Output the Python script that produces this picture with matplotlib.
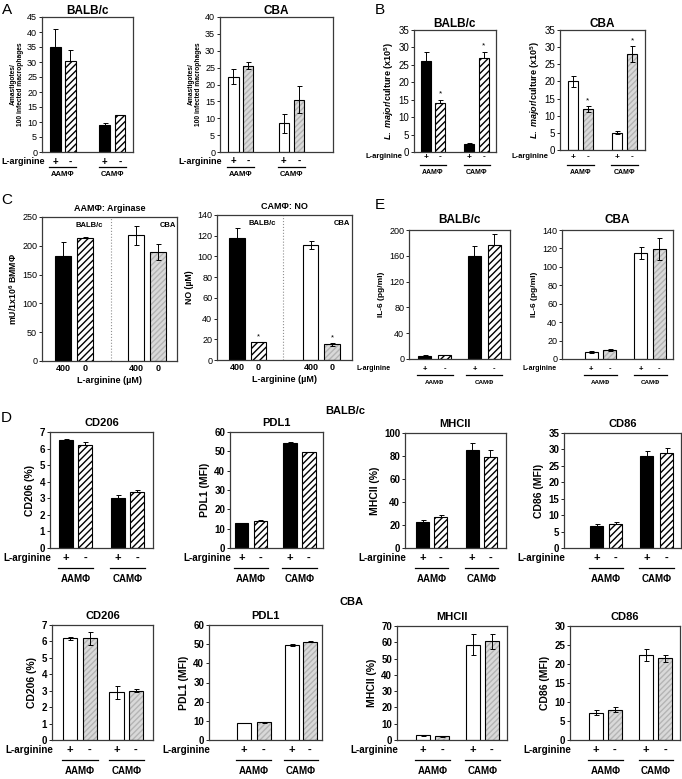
import matplotlib
matplotlib.use('Agg')
import matplotlib.pyplot as plt
from matplotlib import transforms

plt.rcParams['font.family'] = ['Liberation Sans', 'DejaVu Sans']
plt.rcParams['mathtext.fontset'] = 'custom'
plt.rcParams['mathtext.rm'] = 'Liberation Sans:bold'
plt.rcParams['mathtext.it'] = 'Liberation Sans:italic:bold'
plt.rcParams['hatch.linewidth'] = 1.0

W, H, DPI = 682, 779, 100

# ---- data ----
groups = ['AAMΦ', 'CAMΦ']
arg_signs = ['+', '-', '+', '-']
c_ticks = ['400', '0', '400', '0']

a_balb = [35, 30.5, 9, 12.3]
a_balb_err = [6, 3.5, 0.8, 0.1]
a_cba = [22.3, 25.6, 8.5, 15.5]
a_cba_err = [2.2, 1.1, 2.8, 4.0]

b_balb = [26, 14, 2.4, 27]
b_balb_err = [2.8, 1.0, 0.2, 1.8]
b_cba = [20, 12, 5.1, 28]
b_cba_err = [1.5, 0.8, 0.4, 2.2]

c_arginase = [183, 213, 218, 189]
c_arginase_err = [24, 3, 17, 14]
c_no = [118, 17, 111, 15]
c_no_err = [9, 0.3, 4, 1]

e_balb = [5, 5.5, 160, 176]
e_balb_err = [1.5, 1, 15, 18]
e_cba = [8, 9.5, 115, 119]
e_cba_err = [1, 1, 7, 12]

d_markers = ['CD206', 'PDL1', 'MHCII', 'CD86']
d_ylabels = ['CD206 (%)', 'PDL1 (MFI)', 'MHCII (%)', 'CD86 (MFI)']
d_balb = [[6.5, 6.2, 3.0, 3.4], [12.7, 14, 54.3, 49.5],
          [22.5, 27, 85.5, 79.5], [6.7, 7.2, 28, 28.8]]
d_balb_err = [[0.1, 0.2, 0.2, 0.1], [0.1, 0.5, 0.5, 0.1],
              [1.5, 1.5, 5.5, 6], [0.6, 0.8, 1.5, 1.5]]
d_cba = [[6.2, 6.2, 2.9, 3.0], [9.0, 9.2, 49.7, 51.2],
         [2.8, 2.4, 58.5, 60.5], [7.2, 8.0, 22.3, 21.5]]
d_cba_err = [[0.1, 0.4, 0.4, 0.1], [0.1, 0.3, 0.4, 0.3],
             [0.05, 0.3, 6.5, 4.5], [0.6, 0.7, 1.6, 0.9]]

BALB = ['black', 'hatch', 'black', 'hatch']
CBA = ['white', 'gray', 'white', 'gray']

fig = plt.figure(figsize=(W / DPI, H / DPI), dpi=DPI)


def add_ax(l, t, r, b):
    return fig.add_axes([l / W, 1 - b / H, (r - l) / W, (b - t) / H])


def shift(ax, base, dx=0, dy=0):
    return base + transforms.ScaledTranslation(dx / DPI, -dy / DPI, fig.dpi_scale_trans)


def draw_bars(ax, pos, vals, errs, kinds, width, ylim, step, tick_fs, tick_bold=False):
    for x, v, k in zip(pos, vals, kinds):
        if k == 'black':
            ax.bar(x, v, width, color='black', edgecolor='black', lw=0.8)
        elif k == 'white':
            ax.bar(x, v, width, color='white', edgecolor='black', lw=0.8)
        elif k == 'hatch':
            ax.bar(x, v, width, color='white', edgecolor='black', hatch='/////', lw=0.8)
        else:
            ax.bar(x, v, width, color='#d9d9d9', edgecolor='#b4b4b4', hatch='//////', lw=0)
            ax.bar(x, v, width, fill=False, edgecolor='black', lw=0.8)
    lo = [0 if k in ('black', 'hatch') else e for k, e in zip(kinds, errs)]
    ax.errorbar(pos, vals, yerr=[lo, errs], fmt='none', ecolor='black',
                elinewidth=0.7, capsize=1.8, capthick=0.7, zorder=5)
    ax.set_ylim(*ylim)
    ax.set_yticks(range(0, ylim[1] + 1, step))
    ax.tick_params(axis='y', length=2.5, width=0.6, pad=1, labelsize=tick_fs)
    if tick_bold:
        for t in ax.get_yticklabels():
            t.set_fontweight('bold')
    ax.set_xticks([])
    for s in ax.spines.values():
        s.set_linewidth(0.9)
        s.set_color('#3a3a3a')


def arg_labels(ax, pos, pm_dy, line_dy, grp_dy, larg_dx, larg_fs, pm_fs, grp_fs):
    bt = transforms.blended_transform_factory(ax.transData, ax.transAxes)
    for x, s in zip(pos, arg_signs):
        ax.text(x, 0, s, transform=shift(ax, bt, 0, pm_dy), ha='center', va='center',
                fontsize=pm_fs, fontweight='bold', clip_on=False)
    ax.text(0, 0, 'L-arginine', transform=shift(ax, ax.transAxes, larg_dx, pm_dy),
            ha='right', va='center', fontsize=larg_fs, fontweight='bold', clip_on=False)
    for i, g in enumerate(groups):
        x0, x1 = pos[2 * i], pos[2 * i + 1]
        ax.plot([x0 - 0.4, x1 + 0.4], [0, 0], transform=shift(ax, bt, 0, line_dy),
                color='black', lw=0.9, clip_on=False)
        ax.text((x0 + x1) / 2, 0, g, transform=shift(ax, bt, 0, grp_dy), ha='center',
                va='center', fontsize=grp_fs, fontweight='bold', clip_on=False)


def stars(ax, pos, vals, errs, idx, fs=6):
    for i in idx:
        ax.annotate('*', (pos[i], vals[i] + errs[i]), xytext=(0, 1.5),
                    textcoords='offset points', ha='center', va='bottom', fontsize=fs)


# ---- panel A ----
pos = [0, 1, 3.27, 4.27]
ax = add_ax(42, 17, 133, 152)
draw_bars(ax, pos, a_balb, a_balb_err, BALB, 0.7, (0, 45), 5, 6.5)
ax.set_xlim(-0.87, 5.13)
ax.set_title('BALB/c', fontsize=8.5, fontweight='bold', pad=2)
ax.set_ylabel('Amastigotes/\n100 infected macrophages', fontsize=4.8, fontweight='bold', labelpad=2)
arg_labels(ax, pos, 10, 15, 22, 3, 6.5, 7, 5.5)

pos = [0, 1, 3.4, 4.4]
ax = add_ax(220, 17, 333, 152)
draw_bars(ax, pos, a_cba, a_cba_err, CBA, 0.7, (0, 40), 5, 6.5)
ax.set_xlim(-0.9, 6.7)
ax.set_title('CBA', fontsize=8.5, fontweight='bold', pad=2)
ax.set_ylabel('Amastigotes/\n100 infected macrophages', fontsize=4.8, fontweight='bold', labelpad=2)
arg_labels(ax, pos, 9, 15, 22, 2, 6.5, 7, 5.5)

# ---- panel B ----
ylab_b = r'$\it{L.\ major}$/culture (x10$^{5}$)'
pos = [0, 1, 3, 4]
ax = add_ax(414, 30, 496, 152)
draw_bars(ax, pos, b_balb, b_balb_err, BALB, 0.7, (0, 35), 5, 7)
ax.set_xlim(-0.8, 4.83)
ax.set_title('BALB/c', fontsize=8.5, fontweight='bold', pad=2)
ax.set_ylabel(ylab_b, fontsize=6.5, fontweight='bold', labelpad=2)
stars(ax, pos, b_balb, b_balb_err, [1, 3])
arg_labels(ax, pos, 5, 13, 21, -12, 5.5, 6, 5)

ax = add_ax(560, 30, 645, 150)
draw_bars(ax, pos, b_cba, b_cba_err, CBA, 0.7, (0, 35), 5, 7)
ax.set_xlim(-0.87, 4.87)
ax.set_title('CBA', fontsize=8.5, fontweight='bold', pad=2)
ax.set_ylabel(ylab_b, fontsize=6.5, fontweight='bold', labelpad=2)
stars(ax, pos, b_cba, b_cba_err, [1, 3])
arg_labels(ax, pos, 7, 15, 23, -12, 5.5, 6, 5)


# ---- panel C ----
def c_panel(box, vals, errs, pos, xlim, div, lab_x, ylim, step, title, ylabel, star_idx):
    ax = add_ax(*box)
    draw_bars(ax, pos, vals, errs, ['black', 'hatch', 'white', 'gray'], 0.72, ylim, step, 6.5)
    ax.set_xlim(*xlim)
    ax.axvline(div, color='#909090', lw=0.8, ls=':')
    ax.set_xticks(pos)
    ax.set_xticklabels(c_ticks, fontsize=6.5, fontweight='bold')
    ax.tick_params(axis='x', length=0, pad=2)
    ax.set_xlabel('L-arginine (µM)', fontsize=6.5, fontweight='bold', labelpad=2)
    ax.set_title(title, fontsize=6.5, fontweight='bold', pad=4)
    ax.set_ylabel(ylabel, fontsize=6.3, fontweight='bold', labelpad=2)
    for x, s in zip(lab_x, ['BALB/c', 'CBA']):
        ax.text(x, 0.94, s, transform=transforms.blended_transform_factory(ax.transData, ax.transAxes),
                ha='center', va='center', fontsize=5.5, fontweight='bold')
    stars(ax, pos, vals, errs, star_idx, fs=5.5)
    return ax


c_panel((42, 217, 177, 361), c_arginase, c_arginase_err, [0, 1, 3.3, 4.3], (-0.95, 5.16), 2.18,
        [1.18, 4.73], (0, 250), 50, 'AAMΦ: Arginase', 'mU/1x10$^{6}$ BMMΦ', [])
c_panel((217, 215, 352, 360), c_no, c_no_err, [0, 1, 3.5, 4.5], (-0.95, 5.45), 2.2,
        [1.19, 4.95], (0, 140), 20, 'CAMΦ: NO', 'NO (µM)', [1, 3])

# ---- panel E ----
pos = [0, 1, 2.5, 3.5]
ax = add_ax(409, 230, 510, 359)
draw_bars(ax, pos, e_balb, e_balb_err, BALB, 0.68, (0, 200), 40, 6.5)
ax.set_xlim(-0.78, 4.28)
ax.set_title('BALB/c', fontsize=8.5, fontweight='bold', pad=5)
ax.set_ylabel('IL-6 (pg/ml)', fontsize=6, fontweight='bold', labelpad=3)
arg_labels(ax, pos, 10, 16, 23, -18, 5, 5.5, 4.5)

pos = [0, 1, 2.7, 3.7]
ax = add_ax(562, 230, 673, 359)
draw_bars(ax, pos, e_cba, e_cba_err, CBA, 0.7, (0, 140), 20, 6.5)
ax.set_xlim(-1.6, 4.45)
ax.set_title('CBA', fontsize=8.5, fontweight='bold', pad=5)
ax.set_ylabel('IL-6 (pg/ml)', fontsize=6, fontweight='bold', labelpad=3)
arg_labels(ax, pos, 10, 16, 23, -5, 5, 5.5, 4.5)

# ---- panel D ----
d_boxes_balb = [(50, 432, 153, 548), (230, 432, 323, 548), (405, 433, 506, 548), (564, 433, 681, 548)]
d_boxes_cba = [(52, 625, 153, 740), (209, 625, 322, 740), (397, 626, 507, 740), (570, 626, 680, 740)]
d_pos_balb = [[0, 1, 2.7, 3.7], [0, 1, 2.55, 3.55], [0, 1, 2.72, 3.72], [0, 1, 2.63, 3.68]]
d_xlim_balb = [(-0.83, 4.53), (-0.6, 4.29), (-0.97, 4.58), (-1.71, 4.44)]
d_pos_cba = [[0, 1, 2.33, 3.3], [0, 1, 2.44, 3.38], [0, 1, 2.63, 3.63], [0, 1, 2.63, 3.63]]
d_xlim_cba = [(-0.9, 4.15), (-1.8, 4.0), (-1.37, 4.42), (-1.34, 4.39)]
d_ylim_balb = [(7, 1), (60, 10), (100, 20), (35, 5)]
d_ylim_cba = [(7, 1), (60, 10), (70, 10), (30, 5)]

for row in range(2):
    boxes = [d_boxes_balb, d_boxes_cba][row]
    vals_all = [d_balb, d_cba][row]
    errs_all = [d_balb_err, d_cba_err][row]
    kinds = [BALB, CBA][row]
    for j in range(4):
        pos = [d_pos_balb, d_pos_cba][row][j]
        top, step = [d_ylim_balb, d_ylim_cba][row][j]
        ax = add_ax(*boxes[j])
        draw_bars(ax, pos, vals_all[j], errs_all[j], kinds, 0.72, (0, top), step, 7, tick_bold=True)
        ax.set_xlim(*[d_xlim_balb, d_xlim_cba][row][j])
        ax.set_title(d_markers[j], fontsize=8, fontweight='bold', pad=4)
        ax.set_ylabel(d_ylabels[j], fontsize=7.5, fontweight='bold', labelpad=3)
        arg_labels(ax, pos, 10, 20, 31, 1, 7.1, 8, 7)

fig.text(345 / W, 1 - 411 / H, 'BALB/c', fontsize=8, fontweight='bold', ha='center', va='center')
fig.text(351 / W, 1 - 602 / H, 'CBA', fontsize=8, fontweight='bold', ha='center', va='center')

for s, x, y in [('A', 2, 10), ('B', 375, 10), ('C', 1, 200), ('E', 375, 205), ('D', 1, 418)]:
    fig.text(x / W, 1 - y / H, s, fontsize=11, ha='left', va='center')

fig.savefig('out.png', dpi=DPI)
